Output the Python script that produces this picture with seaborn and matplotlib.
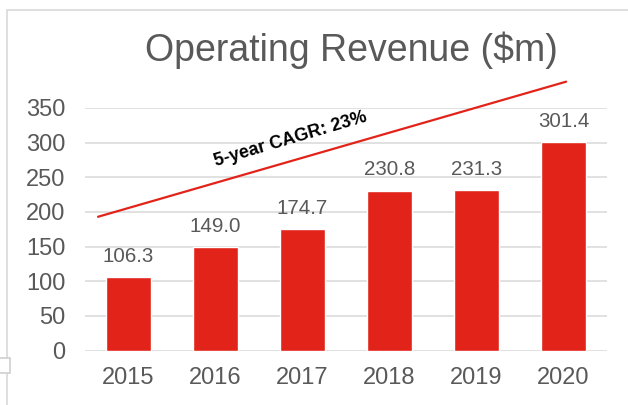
import pandas as pd
import matplotlib.pyplot as plt
import seaborn as sns
from matplotlib.patches import Rectangle

# Donnees du graphique
years = ['2015', '2016', '2017', '2018', '2019', '2020']
revenue = [106.3, 149.0, 174.7, 230.8, 231.3, 301.4]
y_ticks = [0, 50, 100, 150, 200, 250, 300, 350]

# ligne de tendance (decorative) : extremites en coordonnees des donnees
trend_x = [-0.35, 5.03]
trend_y = [193, 388]
trend_label = '5-year CAGR: 23%'

df = pd.DataFrame({'Year': years, 'Revenue': revenue})

sns.set_theme(style='white')
plt.rcParams['font.family'] = ['Liberation Sans', 'DejaVu Sans']

RED = '#E2231A'
GREY_TXT = '#595959'

fig = plt.figure(figsize=(6.28, 4.05), dpi=100)
ax = fig.add_axes([85 / 628, 1 - 350.5 / 405, (607 - 85) / 628, (350.5 - 108) / 405])

sns.barplot(data=df, x='Year', y='Revenue', color=RED, saturation=1,
            width=0.52, ax=ax, zorder=3)

ax.set_xlim(-0.5, 5.5)
ax.set_ylim(0, 350)
ax.set_yticks(y_ticks)
ax.yaxis.grid(True, color='#D9D9D9', linewidth=1.1, zorder=0)
ax.xaxis.grid(False)
ax.set_axisbelow(True)
for s in ax.spines.values():
    s.set_visible(False)
ax.set_xlabel('')
ax.set_ylabel('')
ax.tick_params(axis='y', labelsize=17, labelcolor=GREY_TXT, length=0, pad=14)
ax.tick_params(axis='x', labelsize=17, labelcolor=GREY_TXT, length=0, pad=12)

# etiquettes des valeurs
for i, v in enumerate(revenue):
    ax.annotate(f'{v:.1f}', (i, v), xytext=(0, 8), textcoords='offset points',
                ha='center', va='bottom', fontsize=14.8, color=GREY_TXT)

# ligne CAGR
ax.plot(trend_x, trend_y, color=RED, linewidth=1.6, clip_on=False, zorder=4)
ax.text(1.86, 305, trend_label, rotation=16.5, ha='center', va='center',
        fontsize=13, fontweight='bold', color='black', rotation_mode='anchor')

# titre
fig.text(351 / 628, 1 - 50 / 405, 'Operating Revenue ($m)', ha='center', va='center',
         fontsize=27, color=GREY_TXT)

# cadre gris autour du graphique
fig.add_artist(Rectangle((7 / 628, -0.1), 1.2, 1 - 10 / 405 + 0.1,
                         transform=fig.transFigure, fill=False,
                         edgecolor='#D9D9D9', linewidth=1.2))
fig.add_artist(Rectangle((-0.01, 1 - 373 / 405), 10 / 628 + 0.01, 15 / 405,
                         transform=fig.transFigure, facecolor='white',
                         edgecolor='#D0D0D0', linewidth=1.2))

fig.savefig('out.png', dpi=100)
